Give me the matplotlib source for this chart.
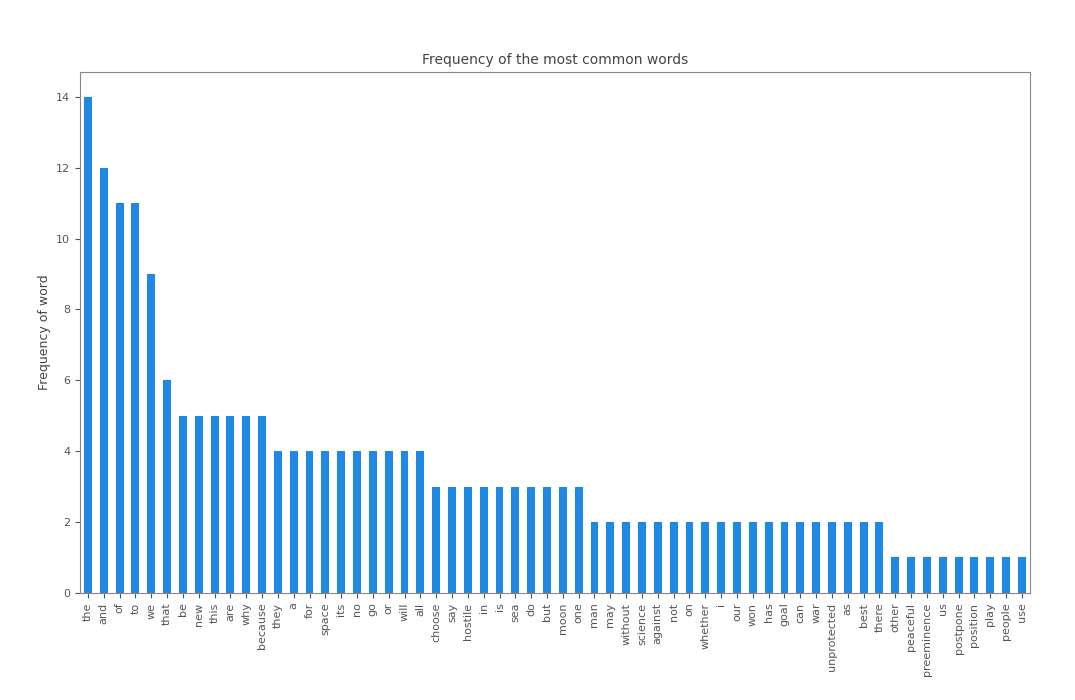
import matplotlib.pyplot as plt
import numpy as np

words = ['the', 'and', 'of', 'to', 'we', 'that', 'be', 'new', 'this', 'are',
         'why', 'because', 'they', 'a', 'for', 'space', 'its', 'no', 'go', 'or',
         'will', 'all', 'choose', 'say', 'hostile', 'in', 'is', 'sea', 'do', 'but',
         'moon', 'one', 'man', 'may', 'without', 'science', 'against', 'not', 'on',
         'whether', 'i', 'our', 'won', 'has', 'goal', 'can', 'war', 'unprotected',
         'as', 'best', 'there', 'other', 'peaceful', 'preeminence', 'us',
         'postpone', 'position', 'play', 'people', 'use']
counts = [14, 12, 11, 11, 9, 6, 5, 5, 5, 5,
          5, 5, 4, 4, 4, 4, 4, 4, 4, 4,
          4, 4, 3, 3, 3, 3, 3, 3, 3, 3,
          3, 3, 2, 2, 2, 2, 2, 2, 2,
          2, 2, 2, 2, 2, 2, 2, 2, 2,
          2, 2, 2, 1, 1, 1, 1,
          1, 1, 1, 1, 1]

fig = plt.figure(figsize=(10.75, 7), dpi=100)
ax = fig.add_axes([0.0744, 0.153, 0.8836, 0.744])

x = np.arange(len(words))
ax.bar(x, counts, width=0.5, color='#1e88e5')
ax.set_xlim(-0.5, len(words) - 0.5)
ax.set_ylim(0, 14.7)
ax.set_xticks(x)
ax.set_xticklabels(words, rotation=90, fontsize=8, color='#555555')
ax.tick_params(axis='y', labelsize=8, labelcolor='#555555')
ax.tick_params(colors='#555555')
ax.set_ylabel('Frequency of word', fontsize=9, color='#444444')
ax.set_title('Frequency of the most common words', fontsize=10, color='#444444')
for s in ax.spines.values():
    s.set_color('#888888')

fig.savefig('out.png', dpi=100)
